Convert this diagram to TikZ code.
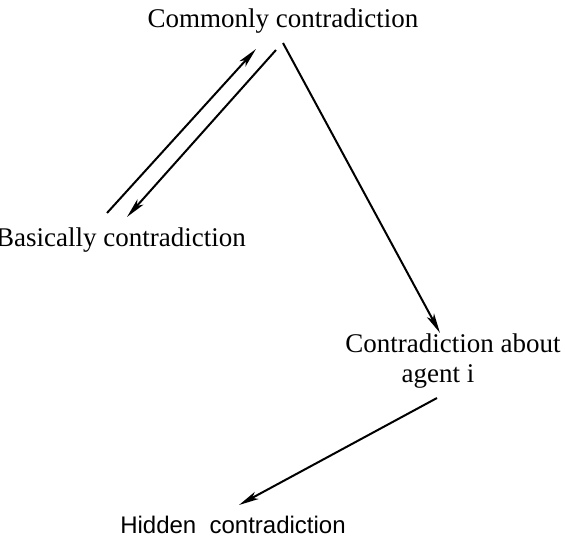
\documentclass[tikz,border=0pt]{standalone}
\usepackage{fontspec}
\setmainfont{Liberation Serif}
\newfontfamily\hiddenfont{Liberation Sans}
\usetikzlibrary{arrows.meta}
\begin{document}
\begin{tikzpicture}[x=1pt,y=-1pt,
  lbl/.style={inner sep=0pt, font=\fontsize{27}{30}\selectfont},
  conn/.style={line width=2pt, -{Stealth[length=20pt,width=8pt,inset=5pt]}}]
\useasboundingbox (0,0) rectangle (565,540);
\clip (0,0) rectangle (565,540);
\node[lbl] (top) at (283,21) {Commonly contradiction};
\node[lbl, anchor=east] (basic) at (246,240) {Basically contradiction};
\node[lbl, align=center] (agent) at (453,361) {Contradiction about\\agent i\hspace*{30pt}};
\node[inner sep=0pt, font=\hiddenfont\fontsize{24}{28}\selectfont] (hidden) at (233,525) {Hidden\ \ contradiction};
% connector end points
\coordinate (a1) at (107,213);
\coordinate (a2) at (256,49);
\coordinate (b1) at (276,50);
\coordinate (b2) at (127,217);
\coordinate (c1) at (283,43);
\coordinate (c2) at (440,333);
\coordinate (d1) at (437,398);
\coordinate (d2) at (239,505);
\draw[conn] (a1) -- (a2);
\draw[conn] (b1) -- (b2);
\draw[conn] (c1) -- (c2);
\draw[conn] (d1) -- (d2);
\end{tikzpicture}
\end{document}
